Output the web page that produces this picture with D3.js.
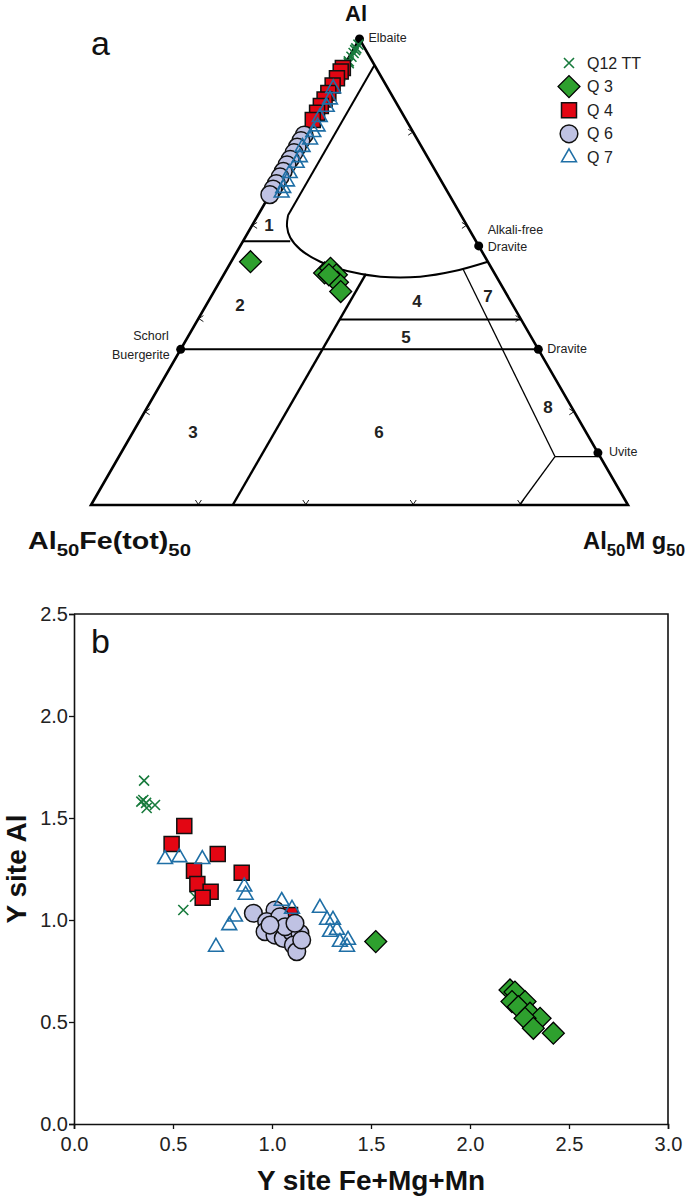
<!DOCTYPE html>
<html><head><meta charset="utf-8">
<script src="https://cdn.jsdelivr.net/npm/d3@7"></script>
<style>
body{margin:0;background:#fff}
svg{display:block}
text{font-family:"Liberation Sans",Arial,sans-serif}
</style>
</head><body>
<svg id="c" width="685" height="1197"></svg>
<script>
// ---------------- DATA ----------------
const seriesNames = ["Q12 TT", "Q 3", "Q 4", "Q 6", "Q 7"];

// Panel a: ternary Al - Fe(tot) - Mg  (values as [Al, Fe, Mg] percent)
const ternQ12 = [[99.4,0.4,0.2],[99.0,0.8,0.2],[98.8,1.0,0.2],[98.5,1.3,0.2],[98.1,1.7,0.2],
                 [97.6,2.2,0.2],[97.4,2.3,0.3],[97.0,2.8,0.2],[96.0,3.8,0.2]];
const ternQ3  = [[76.1,22.1,1.8],[74.9,15.8,9.3],[75.4,15.0,9.6],[74.7,14.8,10.5],
                 [73.9,15.1,11.0],[72.9,15.3,11.8],[74.7,15.5,9.8]];
const ternQ4  = [[96.9,3.1,0],[96.5,3.5,0],[95.8,4.2,0],[95.0,5.0,0],[94.2,5.8,0],
                 [93.5,6.5,0],[92.8,7.2,0],[92.1,7.9,0],[91.3,8.7,0]];
const ternQ6  = [[89.7,10.3,0],[89.1,10.9,0],[88.4,11.6,0],[87.8,12.2,0],[87.1,12.9,0],
                 [86.5,13.5,0],[85.8,14.2,0],[85.2,14.8,0],[84.5,15.5,0],[83.9,16.1,0],[83.3,16.7,0]];
const ternQ7  = [[94.7,5.1,0.2],[93.5,6.0,0.5],[92.7,6.7,0.6],[91.6,7.9,0.5],[90.6,8.6,0.8],
                 [90.0,9.3,0.7],[89.2,10.0,0.8],[88.4,11.1,0.5],[87.3,11.9,0.8],[86.7,12.5,0.8],
                 [85.6,13.7,0.7],[84.7,14.4,0.9],[84.0,15.1,0.9],[83.5,15.5,1.0]];

// end members [Al, Fe, Mg]
const endMemberNames = ["Elbaite", "Alkali-free Dravite", "Schorl Buergerite", "Dravite", "Uvite"];
const endMembers = [[100,0,0],[77.8,0,22.2],[66.7,33.3,0],[66.7,0,33.3],[55.6,0,44.4]];

// field boundaries (Henry & Guidotti) [Al, Fe, Mg]
const outline     = [[100,0,0],[50,50,0],[50,0,50]];
const field1Line  = [[97.2,0,2.8],[81.1,16.1,2.8]];
const field1Curve = [[81.1,16.1,2.8],[79.9,16.8,3.3],[78.7,17.1,4.2],[77.4,16.8,5.8],[76.1,15.6,8.3],
                     [75.1,13.6,11.3],[74.5,10.8,14.7],[74.5,7.1,18.4],[75.1,3.6,21.3],[76.1,0,23.9]];
const line1_2     = [[78.3,21.7,0],[78.3,17.3,4.4]];
const line4_6     = [[74.8,12.0,13.2],[50,36.8,13.2]];
const line4_5     = [[69.9,16.9,13.2],[69.9,0,30.1]];
const lineSD      = [[66.7,33.3,0],[66.7,0,33.3]];
const line7       = [[75.3,2.7,22.0],[55.2,4.2,40.6]];
const line8top    = [[55.2,4.2,40.6],[55.2,0,44.8]];
const line8bot    = [[55.2,4.2,40.6],[50,10.1,39.9]];
const tickFracs   = [0.2,0.4,0.6,0.8];

// Panel b: [Y site Fe+Mg+Mn, Y site Al]
const bQ12 = [[0.354,1.683],[0.350,1.588],[0.340,1.580],[0.364,1.574],[0.367,1.549],[0.409,1.564],
              [0.611,1.114],[0.552,1.049]];
const bQ3  = [[1.524,0.894],[2.202,0.657],[2.227,0.647],[2.278,0.600],[2.212,0.600],[2.244,0.575],
              [2.303,0.543],[2.354,0.518],[2.278,0.518],[2.320,0.469],[2.421,0.445]];
const bQ4  = [[0.557,1.461],[0.493,1.373],[0.726,1.324],[0.606,1.242],[0.847,1.232],[0.623,1.176],
              [0.690,1.139],[0.650,1.109],[1.091,1.025]];
const bQ6  = [[0.906,1.033],[1.015,1.049],[0.973,0.992],[1.040,1.016],[0.965,0.943],[1.015,0.926],
              [1.057,0.910],[1.099,0.943],[1.141,0.935],[1.108,0.877],[1.125,0.845],[1.150,0.902],
              [1.066,0.967],[1.116,0.984],[0.990,0.975]];
const bQ7  = [[0.460,1.298],[0.532,1.307],[0.648,1.298],[0.860,1.163],[0.867,1.123],[0.813,1.016],
              [0.784,0.974],[0.717,0.868],[1.049,1.093],[1.101,1.054],[1.242,1.059],[1.278,1.000],
              [1.308,1.000],[1.293,0.941],[1.328,0.951],[1.343,0.892],[1.384,0.902],[1.379,0.868]];
const xTicks = [0,0.5,1.0,1.5,2.0,2.5,3.0];
const yTicks = [0,0.5,1.0,1.5,2.0,2.5];

// ---------------- STYLES ----------------
const GREEN_X = "#177a3c", GREEN = "#2ea02e", RED = "#e30613", LAV = "#bfc2e3", BLUE = "#1f6fa6";

const svg = d3.select("#c");

function drawSeries(g, pts, kind, pos) {
  const sel = g.append("g").selectAll("path").data(pts).join("path")
    .attr("transform", d => { const p = pos(d); return `translate(${p[0]},${p[1]})` + (kind === "diamond" ? " rotate(45)" : ""); });
  if (kind === "x") {
    sel.attr("d", "M-5,-5L5,5M-5,5L5,-5").attr("stroke", GREEN_X).attr("stroke-width", 1.6).attr("fill", "none");
  } else if (kind === "diamond") {
    sel.attr("d", d3.symbol(d3.symbolSquare, 240)()).attr("fill", GREEN).attr("stroke", "#000").attr("stroke-width", 1.3);
  } else if (kind === "square") {
    sel.attr("d", d3.symbol(d3.symbolSquare, 225)()).attr("fill", RED).attr("stroke", "#111").attr("stroke-width", 1.5);
  } else if (kind === "circle") {
    sel.attr("d", d3.symbol(d3.symbolCircle, 245)()).attr("fill", LAV).attr("stroke", "#111").attr("stroke-width", 1.5);
  } else if (kind === "triangle") {
    sel.attr("d", d3.symbol(d3.symbolTriangle, 95)()).attr("fill", "none").attr("stroke", BLUE).attr("stroke-width", 1.6);
  }
}
const kinds = ["x","diamond","square","circle","triangle"];

// ---------------- PANEL A: TERNARY ----------------
const tx = d3.scaleLinear().domain([0,1]).range([91,628]);
const ty = d3.scaleLinear().domain([0,1]).range([505,39]);
function tern(d) {
  const s = d[0]+d[1]+d[2];
  const t = (d[0]/s*100 - 50)/50, g = (d[2]/s*100)/50;
  return [tx(g + t/2), ty(t)];
}
const lineT = d3.line().x(d => tern(d)[0]).y(d => tern(d)[1]);
const A = svg.append("g");

function seg(pts, w) {
  A.append("path").attr("d", lineT(pts)).attr("fill","none").attr("stroke","#000").attr("stroke-width", w);
}
A.append("path").attr("d", lineT(outline) + "Z").attr("fill","none").attr("stroke","#000").attr("stroke-width",2.6).attr("stroke-linejoin","miter");
seg(field1Line, 2);
A.append("path").attr("d", d3.line().curve(d3.curveCatmullRom).x(d=>tern(d)[0]).y(d=>tern(d)[1])(field1Curve))
  .attr("fill","none").attr("stroke","#000").attr("stroke-width",2);
seg(line1_2, 2);
seg(line4_6, 2.4);
seg(line4_5, 2);
seg(lineSD, 2);
seg(line7, 1.3);
seg(line8top, 1.3);
seg(line8bot, 1.3);

// edge ticks (chevrons)
const ticksG = A.append("g").attr("stroke","#000").attr("stroke-width",0.9).attr("fill","none");
tickFracs.forEach(f => {
  let p = tern([50, 50*(1-f), 50*f]);
  ticksG.append("path").attr("d", `M${p[0]-3},${p[1]-5}L${p[0]},${p[1]-0.5}L${p[0]+3},${p[1]-5}`);
  p = tern([50+50*f, 50*(1-f), 0]);
  ticksG.append("path").attr("d", `M${p[0]+5},${p[1]-3}L${p[0]+0.5},${p[1]}L${p[0]+5},${p[1]+3}`);
  p = tern([50+50*f, 0, 50*(1-f)]);
  ticksG.append("path").attr("d", `M${p[0]-5},${p[1]-3}L${p[0]-0.5},${p[1]}L${p[0]-5},${p[1]+3}`);
});

// end member dots
A.append("g").selectAll("circle").data(endMembers).join("circle")
  .attr("cx", d => tern(d)[0]).attr("cy", d => tern(d)[1]).attr("r", 4.5).attr("fill","#000");

// end member labels
const lab = A.append("g").attr("font-size", 12.5).attr("fill","#222");
const em = endMembers.map(tern);
lab.append("text").attr("x", em[0][0]+9).attr("y", em[0][1]+3).text("Elbaite");
lab.append("text").attr("x", em[1][0]+9).attr("y", em[1][1]-12).text("Alkali-free");
lab.append("text").attr("x", em[1][0]+9).attr("y", em[1][1]+5).text("Dravite");
lab.append("text").attr("x", em[2][0]-12).attr("y", em[2][1]-9).attr("text-anchor","end").text("Schorl");
lab.append("text").attr("x", em[2][0]-11).attr("y", em[2][1]+10).attr("text-anchor","end").text("Buergerite");
lab.append("text").attr("x", em[3][0]+9).attr("y", em[3][1]+4).text("Dravite");
lab.append("text").attr("x", em[4][0]+11).attr("y", em[4][1]+3).text("Uvite");

// field numbers
const fieldNums = [["1",269,231],["2",240,311],["3",193,438],["4",417,307],["5",406,343],["6",379,438],["7",488,302],["8",548,413]];
A.append("g").attr("font-size",17).attr("font-weight","bold").attr("fill","#222").attr("text-anchor","middle")
  .selectAll("text").data(fieldNums).join("text").attr("x", d=>d[1]).attr("y", d=>d[2]).text(d=>d[0]);

// data
[ternQ12, ternQ3, ternQ4, ternQ6, ternQ7].forEach((s,i) => drawSeries(A, s, kinds[i], tern));

// titles
A.append("text").attr("x", 356).attr("y", 21).attr("text-anchor","middle").attr("font-size",22).attr("font-weight","bold").attr("fill","#111").text("Al");
A.append("text").attr("x", 91).attr("y", 55).attr("font-size",34).attr("fill","#111").text("a");

function subLabel(x, y, parts, targetW) {
  const t = A.append("text").attr("font-size",24).attr("font-weight","bold").attr("fill","#111");
  let prevSub = false;
  parts.forEach(p => {
    const ts = t.append("tspan").text(p[0]);
    if (p[1]) ts.attr("font-size",17);
    ts.attr("dy", p[1] ? (prevSub ? 0 : 7) : (prevSub ? -7 : 0));
    prevSub = p[1];
  });
  const w = t.node().getComputedTextLength();
  t.attr("transform", `translate(${x},${y}) scale(${targetW/w},1)`);
}
subLabel(28, 549, [["Al",0],["50",1],["Fe(tot)",0],["50",1]], 163);
subLabel(583, 549, [["Al",0],["50",1],["M g",0],["50",1]], 102);

// legend
const legG = A.append("g");
seriesNames.forEach((n,i) => {
  const y = 63 + i*23.6;
  drawSeries(legG, [[569, y]], kinds[i], d => d);
  legG.append("text").attr("x", 587).attr("y", y+5.5).attr("font-size",16).attr("fill","#222").text(n);
});

// ---------------- PANEL B: SCATTER ----------------
const bx = d3.scaleLinear().domain([0,3]).range([74,668]);
const by = d3.scaleLinear().domain([0,2.5]).range([1124,614]);
const B = svg.append("g");

const xAxis = B.append("g").attr("transform","translate(0,1124)")
  .call(d3.axisBottom(bx).tickValues(xTicks).tickFormat(d3.format(".1f")).tickSize(5).tickPadding(8));
const yAxis = B.append("g").attr("transform","translate(74,0)")
  .call(d3.axisLeft(by).tickValues(yTicks).tickFormat(d3.format(".1f")).tickSize(5).tickPadding(1));
[xAxis, yAxis].forEach(a => {
  a.select(".domain").attr("stroke","#111").attr("stroke-width",1.6);
  a.selectAll(".tick line").attr("stroke","#111").attr("stroke-width",1.3);
  a.selectAll(".tick text").attr("font-size",20).attr("fill","#222").attr("font-family","'Liberation Sans',Arial,sans-serif");
});
B.append("path").attr("d", `M${bx(0)},${by(2.5)}H${bx(3)}V${by(0)}`).attr("fill","none").attr("stroke","#111").attr("stroke-width",1.6);

B.append("text").attr("x", 91).attr("y", 653).attr("font-size",34).attr("fill","#111").text("b");

[bQ12, bQ3, bQ4, bQ6, bQ7].forEach((s,i) => drawSeries(B, s, kinds[i], d => [bx(d[0]), by(d[1])]));

B.append("text").attr("x", (bx(0)+bx(3))/2).attr("y", 1190).attr("text-anchor","middle")
  .attr("font-size",28).attr("font-weight","bold").attr("fill","#111").text("Y site Fe+Mg+Mn");
B.append("text").attr("transform", `translate(26,${(by(0)+by(2.5))/2}) rotate(-90)`).attr("text-anchor","middle")
  .attr("font-size",28).attr("font-weight","bold").attr("fill","#111").text("Y site Al");
</script>
</body></html>
